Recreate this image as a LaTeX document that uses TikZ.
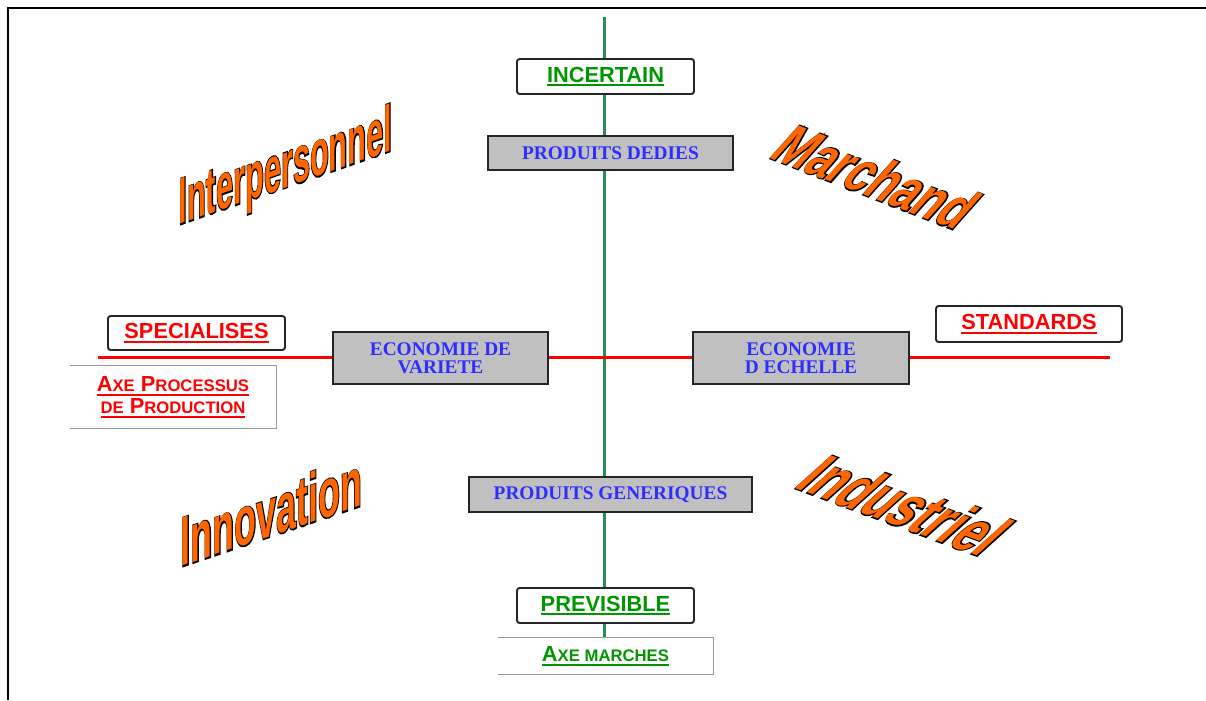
\documentclass[tikz,border=0pt]{standalone}
\usepackage{fontspec}
\newfontfamily\labelfont{Liberation Sans}
\newfontfamily\boxfont{Liberation Serif}
\newfontfamily\wordfont{Liberation Sans}
\newfontfamily\wordedge[BoldFeatures={FakeBold=4}]{Liberation Sans}

\definecolor{axeverte}{RGB}{46,139,87}
\definecolor{vert}{RGB}{0,150,0}
\definecolor{bleu}{RGB}{45,45,255}
\definecolor{orangemot}{RGB}{255,102,0}
\definecolor{grisboite}{RGB}{192,192,192}

% soulignement epais, a la couleur du texte
\newcommand\souligne[1]{\setbox0\hbox{#1}\rlap{\usebox0}\rule[-2.3pt]{\wd0}{1pt}}
% fausses petites capitales
\newcommand\petit[1]{{\fontsize{9.5}{10}\selectfont #1}}

\tikzset{
  etiquette/.style={draw=black!85, line width=1.1pt, rounded corners=1.5pt, fill=white,
    minimum width=3.54cm, minimum height=0.7cm, inner sep=0pt,
    font=\labelfont\bfseries\fontsize{12.4}{14}\selectfont},
  grise/.style={draw=black!85, line width=1.1pt, fill=grisboite, inner sep=0pt,
    align=center, text=bleu, font=\boxfont\bfseries\fontsize{11}{10.5}\selectfont},
  legende/.style={inner sep=0pt, align=center,
    font=\labelfont\bfseries\fontsize{12.4}{12.5}\selectfont},
  axe/.style={draw=black!40, line width=0.6pt},
  mot/.style={anchor=base west, inner sep=0pt, transform shape, text=orangemot,
    font=\wordfont\bfseries\fontsize{10}{12}\selectfont},
  bord/.style={anchor=base west, inner sep=0pt, transform shape, text=black,
    font=\wordedge\bfseries\fontsize{10}{12}\selectfont},
}

\begin{document}
\begin{tikzpicture}[x=0.02cm, y=-0.02cm]
  \useasboundingbox (0,0) rectangle (1206,700);
  \draw[line width=1.2pt] (8,700) -- (8,8) -- (1206,8);

  % les deux axes
  \coordinate (haut) at (604,17);
  \coordinate (bas) at (604,638);
  \coordinate (gauche) at (98,357);
  \coordinate (droite) at (1110,357);
  \draw[axeverte, line width=1.7pt] (haut) -- (bas);
  \draw[red, line width=1.7pt] (gauche) -- (droite);

  % axe vertical
  \node[etiquette, text=vert] (incertain) at (605.5,76.5) {\souligne{INCERTAIN}};
  \node[grise, minimum width=4.9cm, minimum height=0.68cm] (dedies) at (610.5,153) {PRODUITS DEDIES};
  \node[grise, minimum width=5.66cm, minimum height=0.7cm] (generiques) at (610.5,494.5) {PRODUITS GENERIQUES};
  \node[etiquette, text=vert] (previsible) at (605.5,605.5) {\souligne{PREVISIBLE}};
  \node[legende, text=vert, minimum width=4.3cm, minimum height=0.72cm] (marches) at (605.5,656)
    {\souligne{A\petit{XE MARCHES}}};
  \draw[axe] (marches.north west) -- (marches.north east) -- (marches.south east) -- (marches.south west);

  % axe horizontal
  \node[etiquette, text=red, minimum height=0.68cm] (specialises) at (196.5,333) {\souligne{SPECIALISES}};
  \node[etiquette, text=red, minimum width=3.72cm, minimum height=0.72cm] (standards) at (1029,324) {\souligne{STANDARDS}};
  \node[grise, minimum width=4.3cm, minimum height=1.04cm] (variete) at (440.5,358) {ECONOMIE DE\\VARIETE};
  \node[grise, minimum width=4.32cm, minimum height=1.04cm] (echelle) at (801,358) {ECONOMIE\\D ECHELLE};
  \node[legende, text=red, minimum width=4.12cm, minimum height=1.24cm] (processus) at (173,397)
    {\souligne{A\petit{XE} P\petit{ROCESSUS}}\\\souligne{\petit{DE} P\petit{RODUCTION}}};
  \draw[axe] (processus.north west) -- (processus.north east) -- (processus.south east) -- (processus.south west);

  % les quatre mondes
  \node[bord, cm={1.75,0.61,0,3.73,(0,0)}] (inter-bord) at (178,225) {Interpersonnel};
  \node[mot, cm={1.75,0.61,0,3.73,(0,0)}] (inter) at (178,225) {Interpersonnel};
  \node[bord, cm={2.26,-0.88,2.4,2.7,(0,0)}] (marchand-bord) at (767,157) {Marchand};
  \node[mot, cm={2.26,-0.88,2.4,2.7,(0,0)}] (marchand) at (767,157) {Marchand};
  \node[bord, cm={2.04,0.69,0,3.97,(0,0)}] (innovation-bord) at (180,567) {Innovation};
  \node[mot, cm={2.04,0.69,0,3.97,(0,0)}] (innovation) at (180,567) {Innovation};
  \node[bord, cm={2.37,-0.88,3.0,2.7,(0,0)}] (industriel-bord) at (792,487) {Industriel};
  \node[mot, cm={2.37,-0.88,3.0,2.7,(0,0)}] (industriel) at (792,487) {Industriel};
\end{tikzpicture}
\end{document}
